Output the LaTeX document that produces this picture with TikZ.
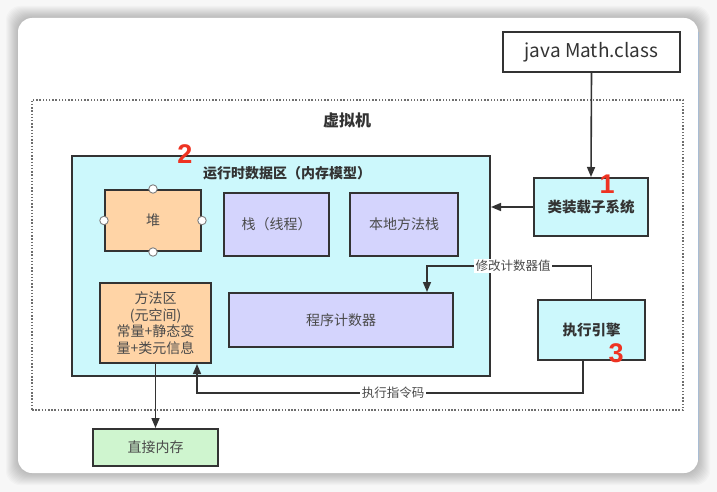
\documentclass[tikz,border=0pt]{standalone}
\usepackage{fontspec}
\setmainfont{Noto Sans CJK SC}
\newfontfamily\numfont{Liberation Sans}
\usetikzlibrary{arrows.meta,calc}
\definecolor{ink}{HTML}{333333}
\definecolor{txt}{HTML}{4A4A4A}
\definecolor{cyanfill}{HTML}{CCF8FC}
\definecolor{orangefill}{HTML}{FFD4A6}
\definecolor{lavfill}{HTML}{D4D4FD}
\definecolor{greenfill}{HTML}{CFF5CF}
\definecolor{numred}{HTML}{EE3322}
\definecolor{dotgray}{HTML}{6E6E6E}
\definecolor{edgeblue}{HTML}{A8BCD4}
\tikzset{
  box/.style={draw=ink, line width=2pt, rectangle, inner sep=0pt, align=center, text=txt, font=\fontsize{14}{17}\selectfont},
  conn/.style={draw=ink, line width=1.6pt, -{Triangle[length=10pt,width=8pt]}},
  edgelabel/.style={fill=white, inner sep=1.5pt, text=txt, font=\fontsize{12.5}{14}\selectfont},
  handle/.style={circle, draw=gray, fill=white, line width=0.9pt, minimum size=8.5pt, inner sep=0pt},
  num/.style={text=numred, font=\numfont\bfseries\fontsize{27}{27}\selectfont, inner sep=0pt}
}
\begin{document}
\begin{tikzpicture}[x=1pt,y=-1pt]
\useasboundingbox (0,0) rectangle (717,492);
\fill[white!97!black] (0,0) rectangle (717,492);
% shadow of the card
\foreach \i in {1,...,12}{
  \fill[black, opacity=0.018, rounded corners=14pt] ($(18,18)+(-\i,-\i)$) rectangle ($(698,473)+(\i,\i)$);
}
\fill[white, rounded corners=14pt] (18,18) rectangle (698,473);
\draw[edgeblue] (698.5,32) -- (698.5,460);

% virtual machine dotted boundary
\node[draw=dotgray, line width=1.6pt, dash pattern=on 1.5pt off 1.7pt, minimum width=651pt, minimum height=310pt, inner sep=0pt] (vm) at (357.5,255) {};
\node[text=ink, font=\bfseries\fontsize{16}{18}\selectfont] (vmlabel) at (347,120) {虚拟机};

% runtime data area
\node[box, fill=cyanfill, minimum width=418pt, minimum height=220pt] (rt) at (281,266) {};
\node[text=ink, font=\bfseries\fontsize{14}{16}\selectfont] (rttitle) at (287,173) {运行时数据区（内存模型）};

\node[box, fill=orangefill, minimum width=96pt, minimum height=61pt] (heap) at (153,220.5) {堆};
\node[handle] (h1) at (heap.north) {};
\node[handle] (h2) at (heap.south) {};
\node[handle] (h3) at (heap.west) {};
\node[handle] (h4) at (heap.east) {};
\node[box, fill=lavfill, minimum width=105pt, minimum height=63pt] (stack) at (276.5,224.5) {栈（线程）};
\node[box, fill=lavfill, minimum width=108pt, minimum height=63pt] (native) at (404,224.5) {本地方法栈};
\node[box, fill=orangefill, minimum width=111pt, minimum height=80pt, font=\fontsize{14}{16.5}\selectfont] (method) at (155.5,323) {方法区\\(元空间)\\常量+静态变\\量+类元信息};
\node[box, fill=lavfill, minimum width=224pt, minimum height=54pt] (pc) at (341,320) {程序计数器};

% right column
\node[box, fill=white, minimum width=177pt, minimum height=40pt, text=ink, font=\fontsize{19}{22}\selectfont] (java) at (591.5,52) {java Math.class};
\node[box, fill=cyanfill, minimum width=114pt, minimum height=58pt, text=ink, font=\bfseries\fontsize{14.5}{17}\selectfont] (loader) at (591,207) {类装载子系统};
\node[box, fill=cyanfill, minimum width=107pt, minimum height=60pt, text=ink, font=\bfseries\fontsize{14.5}{17}\selectfont] (engine) at (591.5,330) {执行引擎};

\node[box, fill=greenfill, minimum width=125pt, minimum height=37pt] (direct) at (155.5,447.5) {直接内存};

% connectors
\draw[conn] (java.south) -- (loader.north);
\draw[conn] (loader.west) -- (loader.west -| rt.east);
\coordinate (c1) at (427,266);
\draw[conn] (engine.north) |- (c1) -- (c1 |- pc.north);
\coordinate (c2) at (197,393);
\draw[conn] ($(engine.south)+(-8.5,0)$) |- (c2) -- (c2 |- method.south);
\draw[conn] (method.south) -- (direct.north);

\node[edgelabel] (lab1) at (513,266) {修改计数器值};
\node[edgelabel] (lab2) at (393,393) {执行指令码};

% numbers
\node[num] (n1) at (607,184) {1};
\node[num] (n2) at (185,154) {2};
\node[num] (n3) at (616,353) {3};
\end{tikzpicture}
\end{document}
